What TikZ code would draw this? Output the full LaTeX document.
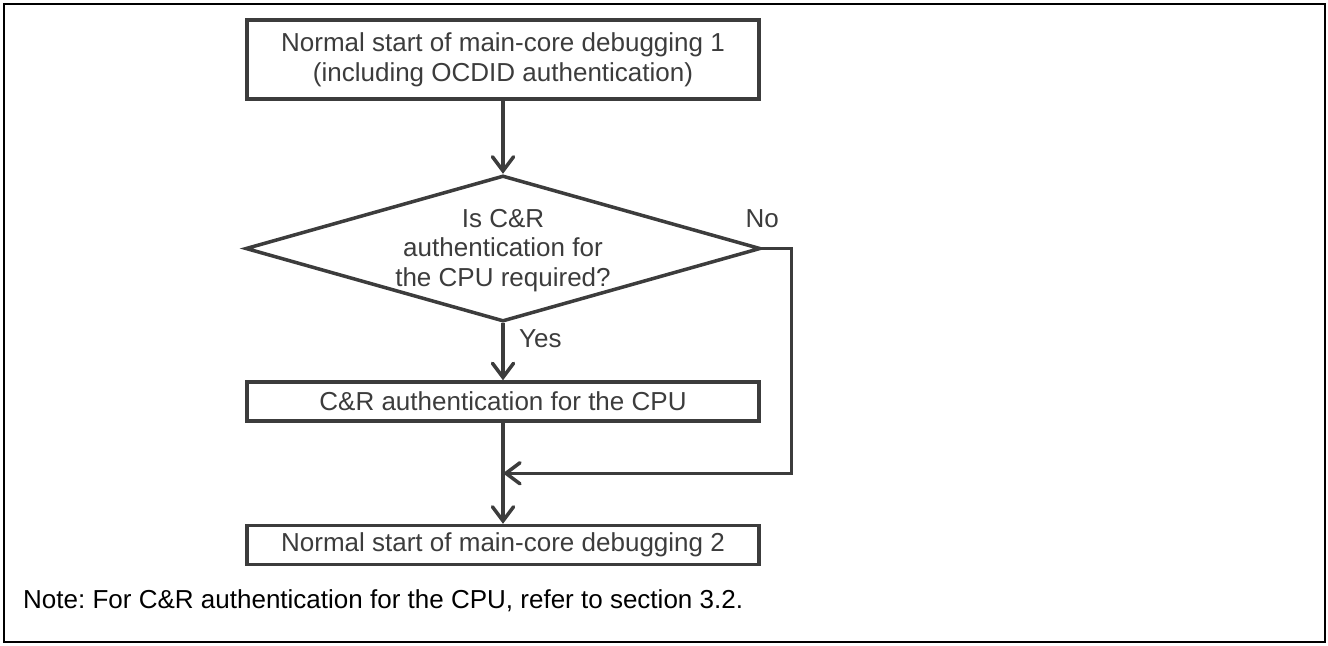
\documentclass[tikz,border=0pt]{standalone}
\usepackage{fontspec}
\setmainfont{Liberation Sans}
\usetikzlibrary{shapes.geometric, positioning, calc, arrows.meta}
\definecolor{ink}{HTML}{3C3C3C}
\newcommand{\flowfont}{\fontsize{14.8}{17}\selectfont}
\frenchspacing
\tikzset{%
  proc/.style = {rectangle, draw=ink, line width=2pt, minimum width=10.24cm,
                 minimum height=0.78cm, inner sep=2pt, font=\flowfont, text=ink,
                 align=center},
  decide/.style = {diamond, draw=ink, line width=2pt, minimum width=10.3cm,
                   minimum height=2.92cm, inner sep=0pt},
  txt/.style = {font=\flowfont, text=ink, align=center},
  flow/.style = {draw=ink, line width=2pt,
                 -{Straight Barb[length=8pt, width=12pt, line cap=round]}},
  frame/.style = {draw=black, line width=1.1pt}
  }

\begin{document}
\begin{tikzpicture}
  \useasboundingbox (0,0) rectangle (26.56,-12.9);
  \draw[frame] (0.08,-0.08) rectangle (26.5,-12.84);

  \node (start) [proc, minimum height=1.58cm] at (10.06,-1.19)
    {Normal start of main-core debugging 1\\(including OCDID authentication)};
  \node (check) [decide, below = 1.46cm of start] {};
  \node (checktxt) [txt, yshift=-0.04cm] at (check.center)
    {Is C\&R\\authentication for\\the CPU required?};
  \node (cr) [proc, below = 1.14cm of check] {C\&R authentication for the CPU};
  \node (resume) [proc, below = 2.02cm of cr] {Normal start of main-core debugging 2};

  \node (yes) [txt, below right = 0cm and 0.2cm of check.south] {Yes};
  \node (no) [txt, above = 0.3cm of check.east] {No};

  % No branch joins between the two lower boxes
  \coordinate (join) at ($(cr.south)!0.5!(resume.north)$);
  \coordinate (turn) at ($(check.east)+(0.58,0)$);

  \draw[flow] (start) -- (check);
  \draw[flow] (check) -- (cr);
  \draw[flow] (cr) -- (resume);
  \draw[flow] (check.east) -- (turn) |- (join);

  \node (note) [anchor=west, font=\flowfont] at (0.34,-12.02)
    {Note: For C\&R authentication for the CPU, refer to section 3.2.};
\end{tikzpicture}
\end{document}
